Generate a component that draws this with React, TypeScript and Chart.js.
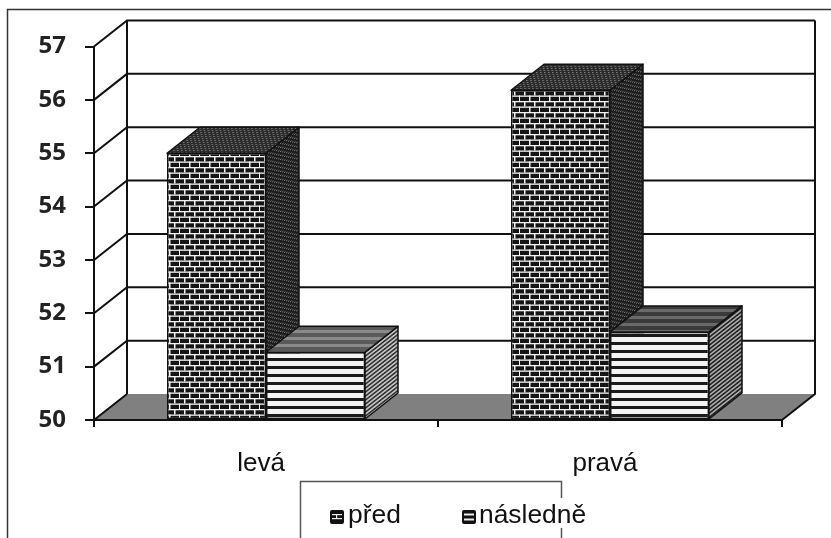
import React, { useEffect, useRef } from "react";
import { Chart, registerables } from "chart.js";

Chart.register(...registerables);

const categories = ["levá", "pravá"];
const seriesNames = ["před", "následně"];
const predValues = [55.0, 56.18];
const nasledneValues = [51.27, 51.65];
const yMin = 50;
const yMax = 57;

const DX = 33;
const DY = -26;

function makePattern(w: number, h: number, paint: (c: CanvasRenderingContext2D) => void, m?: DOMMatrix) {
  const cv = document.createElement("canvas");
  cv.width = w;
  cv.height = h;
  const c = cv.getContext("2d")!;
  paint(c);
  const p = c.createPattern(cv, "repeat")!;
  if (m) p.setTransform(m);
  return p;
}

function brick() {
  return makePattern(20, 11, (c) => {
    c.fillStyle = "#151515";
    c.fillRect(0, 0, 20, 11);
    c.fillStyle = "#f4f4f4";
    c.fillRect(0, 2, 20, 1.3);
    c.fillRect(0, 7.5, 20, 1.3);
    c.fillRect(4, 2, 1.5, 5.5);
    c.fillRect(14, 2, 1.5, 5.5);
    c.fillRect(9, 7.5, 1.5, 5.5);
    c.fillRect(19, 7.5, 1, 5.5);
    c.fillRect(9, 0, 1.5, 2);
    c.fillRect(19, 0, 1, 2);
  });
}

function dots(bg: string, fg: string, m?: DOMMatrix) {
  return makePattern(4, 4, (c) => {
    c.fillStyle = bg;
    c.fillRect(0, 0, 4, 4);
    c.fillStyle = fg;
    c.fillRect(0, 0, 1.5, 1);
    c.fillRect(2, 2, 1.5, 1);
  }, m);
}

function stripes(light: string, dark: string, period: number, lightH: number, m?: DOMMatrix) {
  return makePattern(4, period, (c) => {
    c.fillStyle = dark;
    c.fillRect(0, 0, 4, period);
    c.fillStyle = light;
    c.fillRect(0, 1, 4, lightH);
  }, m);
}

const depthPlugin = {
  id: "depth",
  beforeDraw(chart: any) {
    const { ctx, chartArea: a, scales } = chart;
    const y = scales.y;
    ctx.save();
    ctx.fillStyle = "#fff";
    ctx.fillRect(0, 0, chart.width, chart.height);

    ctx.strokeStyle = "#333";
    ctx.lineWidth = 1.5;
    ctx.beginPath();
    ctx.moveTo(831, 9.5);
    ctx.lineTo(7.5, 9.5);
    ctx.lineTo(7.5, 538);
    ctx.stroke();

    ctx.fillStyle = "#808080";
    ctx.beginPath();
    ctx.moveTo(a.left, a.bottom);
    ctx.lineTo(a.left + DX, a.bottom + DY);
    ctx.lineTo(a.right + DX, a.bottom + DY);
    ctx.lineTo(a.right, a.bottom);
    ctx.closePath();
    ctx.fill();

    ctx.strokeStyle = "#111";
    ctx.lineWidth = 2;
    for (let v = yMin + 1; v <= yMax; v++) {
      const py = y.getPixelForValue(v);
      ctx.beginPath();
      ctx.moveTo(a.left, py);
      ctx.lineTo(a.left + DX, py + DY);
      ctx.lineTo(a.right + DX, py + DY);
      ctx.stroke();
    }
    ctx.beginPath();
    ctx.moveTo(a.left, a.bottom);
    ctx.lineTo(a.left + DX, a.bottom + DY);
    ctx.moveTo(a.left + DX, a.top + DY);
    ctx.lineTo(a.left + DX, a.bottom + DY);
    ctx.moveTo(a.right + DX, a.top + DY);
    ctx.lineTo(a.right + DX, a.bottom + DY);
    ctx.lineTo(a.right, a.bottom);
    ctx.stroke();
    ctx.restore();
  },
  beforeDatasetsDraw(chart: any) {
    const { ctx } = chart;
    const skew = new DOMMatrix([1, DY / DX, 0, 1, 0, 0]);
    const skewX = new DOMMatrix([1, 0, -DX / DY, 1, 0, 0]);
    const tops = [
      [dots("#2a2a2a", "#808080", skewX), dots("#2a2a2a", "#808080", skewX)],
      [stripes("#8a8a8a", "#5a5a5a", 7, 3), stripes("#6a6a6a", "#3a3a3a", 7, 3)],
    ];
    const sides = [
      [dots("#1c1c1c", "#7c7c7c", skew), dots("#1c1c1c", "#7c7c7c", skew)],
      [stripes("#c4c4c4", "#333", 4, 2, skew), stripes("#aaa", "#222", 4, 2, skew)],
    ];
    ctx.save();
    ctx.strokeStyle = "#111";
    ctx.lineWidth = 1.5;
    ctx.lineJoin = "round";
    for (let d = 0; d < 2; d++) {
      chart.getDatasetMeta(d).data.forEach((bar: any, i: number) => {
        const l = bar.x - bar.width / 2;
        const r = bar.x + bar.width / 2;
        ctx.fillStyle = sides[d][i];
        ctx.beginPath();
        ctx.moveTo(r, bar.y);
        ctx.lineTo(r + DX, bar.y + DY);
        ctx.lineTo(r + DX, bar.base + DY);
        ctx.lineTo(r, bar.base);
        ctx.closePath();
        ctx.fill();
        ctx.stroke();
        ctx.fillStyle = tops[d][i];
        ctx.beginPath();
        ctx.moveTo(l, bar.y);
        ctx.lineTo(l + DX, bar.y + DY);
        ctx.lineTo(r + DX, bar.y + DY);
        ctx.lineTo(r, bar.y);
        ctx.closePath();
        ctx.fill();
        ctx.stroke();
      });
    }
    ctx.restore();
  },
  afterDraw(chart: any) {
    const { ctx } = chart;
    ctx.save();
    ctx.strokeStyle = "#555";
    ctx.lineWidth = 1.5;
    ctx.beginPath();
    ctx.moveTo(300.5, 538);
    ctx.lineTo(300.5, 481.5);
    ctx.lineTo(561.5, 481.5);
    ctx.lineTo(561.5, 498);
    ctx.moveTo(561.5, 528);
    ctx.lineTo(561.5, 538);
    ctx.stroke();

    const markers = [330, 462];
    const texts = [348, 479];
    ctx.font = '26.4px "Liberation Sans"';
    ctx.textAlign = "left";
    ctx.textBaseline = "alphabetic";
    seriesNames.forEach((name, i) => {
      const mx = markers[i];
      ctx.fillStyle = "#111";
      ctx.beginPath();
      ctx.roundRect(mx, 510, 14, 14, 2);
      ctx.fill();
      ctx.fillStyle = "#eee";
      if (i === 0) {
        ctx.fillRect(mx + 2, 514, 10, 1.2);
        ctx.fillRect(mx + 2, 518, 10, 1.2);
        ctx.fillRect(mx + 6, 514, 1.2, 4);
      } else {
        ctx.fillRect(mx + 2, 513.5, 10, 2);
        ctx.fillRect(mx + 2, 518.5, 10, 2);
      }
      ctx.fillStyle = "#111";
      ctx.fillText(name, texts[i], 523);
    });
    ctx.restore();
  },
};

export default function App() {
  const ref = useRef<HTMLCanvasElement>(null);

  useEffect(() => {
    const brickFill = brick();
    const lineFill = stripes("#f4f4f4", "#1a1a1a", 8, 5);
    const common = {
      base: yMin,
      borderColor: "#111",
      borderWidth: 1.5,
      borderSkipped: false,
      barPercentage: 1,
      categoryPercentage: 198 / 344,
    };
    const chart = new Chart(ref.current!, {
      type: "bar",
      data: {
        labels: categories,
        datasets: [
          { ...common, label: seriesNames[0], data: predValues, backgroundColor: brickFill },
          { ...common, label: seriesNames[1], data: nasledneValues, backgroundColor: lineFill },
        ],
      },
      options: {
        responsive: false,
        animation: false,
        devicePixelRatio: 1,
        layout: { padding: { top: 46.5, right: 49 } },
        plugins: { legend: { display: false }, tooltip: { enabled: false } },
        scales: {
          x: {
            afterFit: (s: any) => {
              s.height = 118;
            },
            grid: { drawOnChartArea: false, drawTicks: true, tickLength: 7, color: "#111", lineWidth: 2 },
            border: { display: true, color: "#111", width: 2 },
            ticks: { color: "#111", padding: 21, labelOffset: -5, maxRotation: 0, font: { family: "Liberation Sans", size: 26 } },
          },
          y: {
            min: yMin,
            max: yMax,
            afterFit: (s: any) => {
              s.width = 94;
            },
            grid: { drawOnChartArea: false, drawTicks: true, tickLength: 9, color: "#111", lineWidth: 2 },
            border: { display: true, color: "#111", width: 2 },
            ticks: { stepSize: 1, color: "#222", padding: 19, font: { family: "Noto Sans", size: 24, weight: "bold" } },
          },
        },
      },
      plugins: [depthPlugin],
    } as any);
    return () => chart.destroy();
  }, []);

  return (
    <div style={{ position: "absolute", left: 0, top: 0, width: 831, height: 538, overflow: "hidden", background: "#fff" }}>
      <canvas ref={ref} width={831} height={538} style={{ display: "block", filter: "blur(0.4px)" }} />
    </div>
  );
}
